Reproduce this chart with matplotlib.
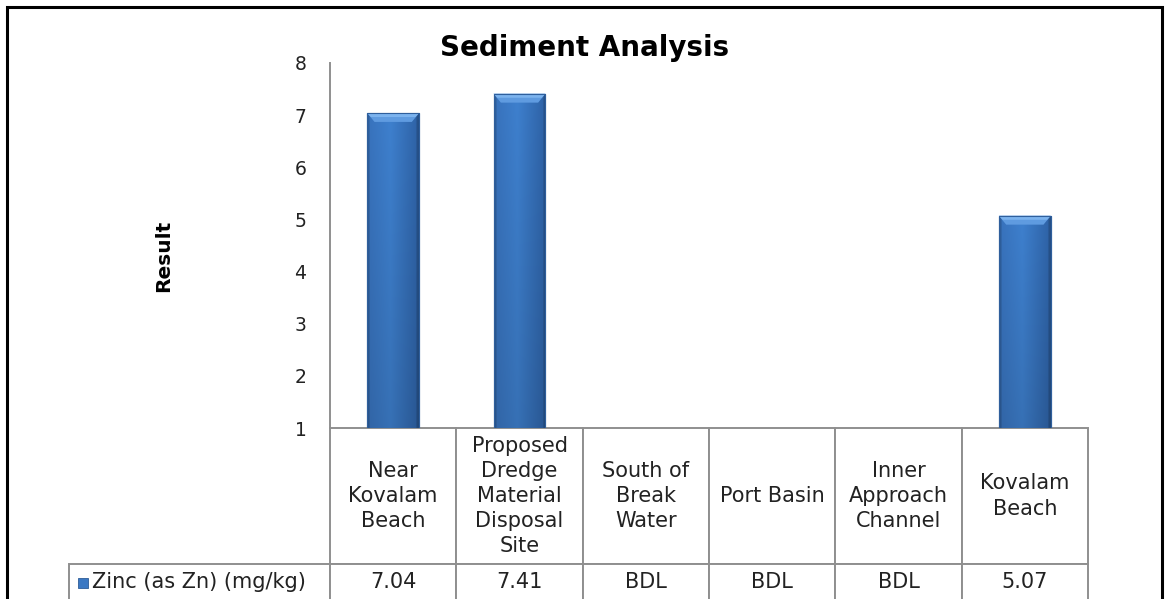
import numpy as np
import matplotlib
matplotlib.use("Agg")
from matplotlib import pyplot as plt
from matplotlib.patches import Rectangle
from matplotlib.table import Table

# data
sites = ["Near\nKovalam\nBeach",
         "Proposed\nDredge\nMaterial\nDisposal\nSite",
         "South of\nBreak\nWater",
         "Port Basin",
         "Inner\nApproach\nChannel",
         "Kovalam\nBeach"]
zinc = [7.04, 7.41, np.nan, np.nan, np.nan, 5.07]
zinc_labels = ["7.04", "7.41", "BDL", "BDL", "BDL", "5.07"]
series_name = "Zinc (as Zn) (mg/kg)"
y_ticks = [1, 2, 3, 4, 5, 6, 7, 8]

W, H = 1166, 599
grid_col = "#8f8f8f"


def bar_gradient(n=60):
    # horizontal shading of a bevelled excel bar
    t = np.linspace(0, 1, n)
    left = np.array([56, 114, 188]) / 255
    mid = np.array([62, 128, 206]) / 255
    right = np.array([46, 98, 166]) / 255
    cols = np.where(t[:, None] < 0.45,
                    left + (mid - left) * (t[:, None] / 0.45),
                    mid + (right - mid) * ((t[:, None] - 0.45) / 0.55))
    edge = np.clip(np.minimum(t, 1 - t) * 25, 0.82, 1.0)
    cols = cols * edge[:, None]
    v = np.linspace(1.0, 0.88, 200)
    img = cols[None, :, :] * v[:, None, None]
    return np.clip(img, 0, 1)


def main():
    fig = plt.figure(figsize=(W / 100, H / 100), dpi=100)
    plt.rcParams['font.family'] = ['DejaVu Sans']

    ax = fig.add_axes([330 / W, 1 - 428 / H, 758 / W, 365 / H])
    x = np.arange(len(sites))
    vals = np.array(zinc)
    ok = ~np.isnan(vals)
    bars = ax.bar(x[ok], vals[ok] - 1, bottom=1, width=0.41,
                  color="#3b78c3", edgecolor="#2d5c98", linewidth=0.8, zorder=2)

    grad = bar_gradient()
    for b in bars:
        x0, y0 = b.get_xy()
        w, h = b.get_width(), b.get_height()
        im = ax.imshow(grad, extent=[x0, x0 + w, y0, y0 + h], aspect='auto',
                       origin='upper', zorder=3)
        im.set_clip_path(b)
        # light bevel on top of the bar
        bev = 0.17
        ax.add_patch(plt.Polygon([[x0, y0 + h], [x0 + w, y0 + h],
                                  [x0 + w * 0.86, y0 + h - bev], [x0 + w * 0.14, y0 + h - bev]],
                                 closed=True, facecolor="#5f9be0", edgecolor="none", zorder=4))
        ax.add_patch(plt.Polygon([[x0, y0 + h], [x0 + w, y0 + h],
                                  [x0 + w * 0.93, y0 + h - bev * 0.45], [x0 + w * 0.07, y0 + h - bev * 0.45]],
                                 closed=True, facecolor="#7cb3ee", edgecolor="none", zorder=4))
        ax.add_patch(Rectangle((x0, y0 + h), w, -h, fill=False, edgecolor="#2f5f9c",
                               linewidth=0.8, zorder=5))

    ax.set_xlim(-0.5, len(sites) - 0.5)
    ax.set_ylim(y_ticks[0], y_ticks[-1])
    ax.set_yticks(y_ticks)
    ax.set_xticks([])
    ax.tick_params(axis='y', length=0, pad=17, labelsize=13.5, labelcolor="#222222")
    for s in ['top', 'right', 'bottom']:
        ax.spines[s].set_visible(False)
    ax.spines['left'].set_color(grid_col)
    ax.spines['left'].set_linewidth(1.4)

    # data table under the plot
    lab_w = (330 - 69) / 758
    tb = Table(ax, bbox=[-lab_w, -(601 - 428) / 365, 1 + lab_w, (601 - 428) / 365])
    col_w = 1 / len(sites)
    c = tb.add_cell(0, 0, lab_w, 136, text="", loc='center')
    c.visible_edges = 'open'
    for j, s in enumerate(sites):
        c = tb.add_cell(0, j + 1, col_w, 136, text=s, loc='center', edgecolor=grid_col)
        c.set_linewidth(1.4)
        c.get_text().set_linespacing(1.32)
    c = tb.add_cell(1, 0, lab_w, 37, text=series_name, loc='left', edgecolor=grid_col)
    c.PAD = 0.09
    c.set_linewidth(1.4)
    for j, v in enumerate(zinc_labels):
        c = tb.add_cell(1, j + 1, col_w, 37, text=v, loc='center', edgecolor=grid_col)
        c.set_linewidth(1.4)
    tb.auto_set_font_size(False)
    tb.set_fontsize(15)
    for cell in tb.get_celld().values():
        cell.get_text().set_color("#222222")
    ax.add_table(tb)

    # legend key in the row label
    ax.add_patch(Rectangle((-(330 - 78) / 758, -(588 - 428) / 365), 10 / 758, 10 / 365,
                           transform=ax.transAxes, clip_on=False,
                           facecolor="#3b78c3", edgecolor="#2d5c98", linewidth=0.6))

    fig.text(585 / W, 1 - 48 / H, "Sediment Analysis", ha='center', va='center',
             fontsize=20, fontweight='bold')
    fig.text(164 / W, 1 - 256 / H, "Result", ha='center', va='center',
             rotation=90, fontsize=14.5, fontweight='bold')

    fig.patches.append(Rectangle((7 / W, -0.02), 1155 / W, 1 - 7 / H + 0.02,
                                 transform=fig.transFigure, fill=False,
                                 edgecolor='black', linewidth=2.2))
    plt.savefig('out.png', dpi=100)


if __name__ == '__main__':
    main()
